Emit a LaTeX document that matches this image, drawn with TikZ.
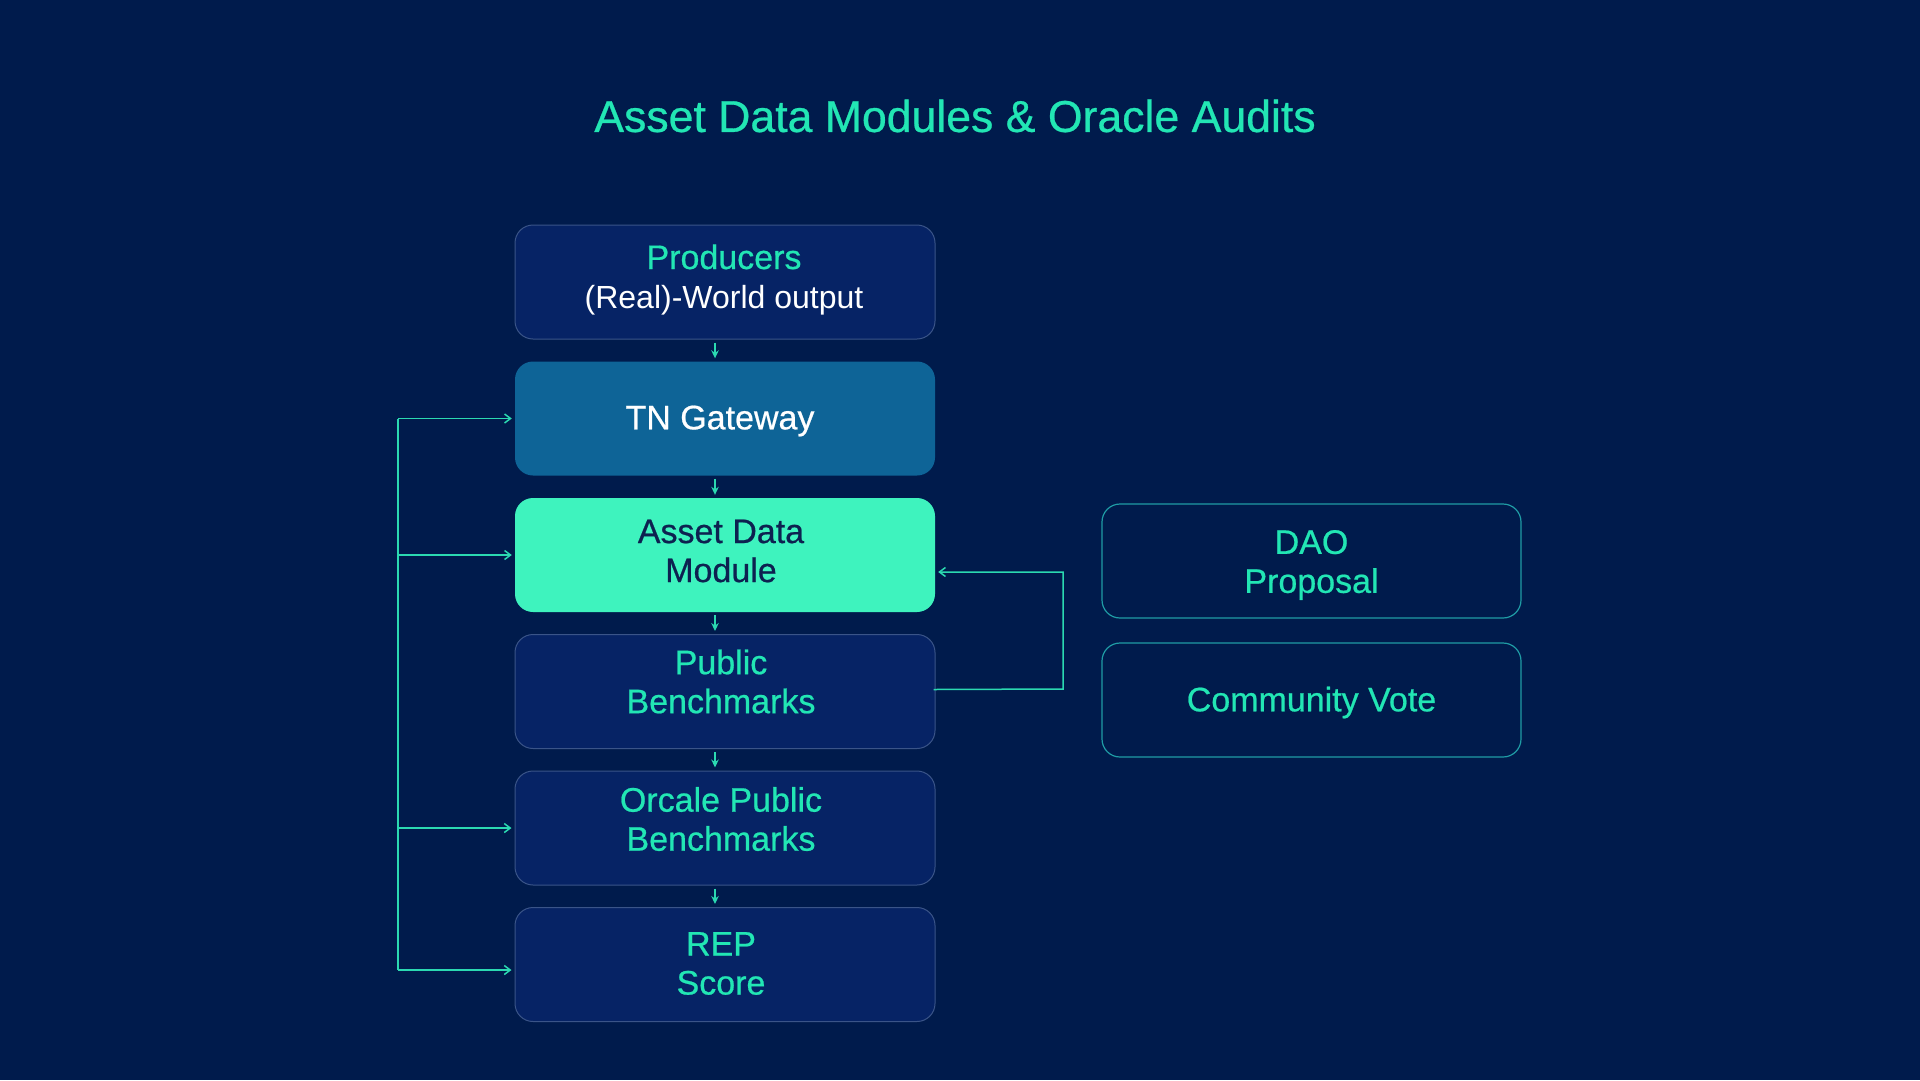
\documentclass[tikz,border=0pt]{standalone}
\usepackage{fontspec}
\setmainfont{Liberation Sans}
\newfontfamily\medfont[FakeBold=0.6]{Liberation Sans}
\usetikzlibrary{arrows.meta}
\definecolor{bg}{HTML}{001B4C}
\definecolor{dbox}{HTML}{062365}
\definecolor{dborder}{HTML}{3A5488}
\definecolor{gwfill}{HTML}{0E6497}
\definecolor{mint}{HTML}{3EF3BE}
\definecolor{navytext}{HTML}{0D2150}
\definecolor{teal}{HTML}{22E6B4}
\definecolor{rborder}{HTML}{1F9CA5}
\definecolor{conn}{HTML}{2BD9B1}
\tikzset{
  box/.style={rectangle, rounded corners=18pt, minimum width=420pt, minimum height=114pt, inner sep=0pt},
  darkbox/.style={box, fill=dbox, draw=dborder, line width=1pt},
  rbox/.style={box, minimum width=419pt, fill=bg, draw=rborder, line width=1.2pt},
  btxt/.style={align=center, font=\medfont\fontsize{34}{39}\selectfont, text=teal, inner sep=0pt},
  flow/.style={draw=conn, line width=2.2pt, -{Stealth[length=8pt,width=7.5pt]}, shorten <=3pt, shorten >=3pt},
  feed/.style={draw=conn, line width=1.5pt, -{Straight Barb[length=6pt,width=9pt]}, shorten >=3pt},
  busline/.style={draw=conn, line width=1.5pt}
}
\begin{document}
\begin{tikzpicture}[x=1pt,y=-1pt]
\fill[bg] (0,0) rectangle (1920,1080);
\useasboundingbox (0,0) rectangle (1920,1080);

\node[text=teal, font=\medfont\fontsize{44.6}{50}\selectfont] (title) at (955,116) {Asset Data Modules \& Oracle Audits};

\node[darkbox, label={[btxt, xshift=-1pt, yshift=2.5pt]center:Producers\\\textcolor{white}{\normalfont\fontsize{32}{39}\selectfont (Real)-World output}}] (prod) at (725,282) {};
\node[box, fill=gwfill, label={[btxt, text=white, xshift=-5pt, yshift=-2.5pt]center:TN Gateway}] (gw) at (725,418.5) {};
\node[box, fill=mint, label={[btxt, text=navytext, xshift=-4pt, yshift=4pt]center:Asset Data\\Module}] (adm) at (725,555) {};
\node[darkbox, label={[btxt, xshift=-4pt, yshift=10pt]center:Public\\Benchmarks}] (pub) at (725,691.5) {};
\node[darkbox, label={[btxt, xshift=-4pt, yshift=9pt]center:Orcale Public\\Benchmarks}] (orc) at (725,828) {};
\node[darkbox, label={[btxt, xshift=-4pt, yshift=1pt]center:REP\\Score}] (rep) at (725,964.5) {};

\node[rbox, label={[btxt, yshift=-4pt]center:DAO\\Proposal}] (dao) at (1311.5,561) {};
\node[rbox, label={[btxt, yshift=-2.5pt]center:Community Vote}] (vote) at (1311.5,700) {};

% vertical flow arrows
\draw[flow] ([xshift=-10pt]prod.south) -- ([xshift=-10pt]gw.north);
\draw[flow] ([xshift=-10pt]gw.south) -- ([xshift=-10pt]adm.north);
\draw[flow] ([xshift=-10pt]adm.south) -- ([xshift=-10pt]pub.north);
\draw[flow] ([xshift=-10pt]pub.south) -- ([xshift=-10pt]orc.north);
\draw[flow] ([xshift=-10pt]orc.south) -- ([xshift=-10pt]rep.north);

% left bus
\coordinate (bt) at (398,418.5);
\coordinate (bb) at (398,970);
\draw[busline] (bt) -- (bb);
\draw[feed] (bt) -- (gw.west);
\draw[feed] (bt |- adm.west) -- (adm.west);
\draw[feed] (bt |- orc.west) -- (orc.west);
\draw[feed] (bb) -- ([yshift=-5.5pt]rep.west);

% right feedback loop
\coordinate (fr) at (1063,689);
\draw[feed] ([xshift=-2pt,yshift=2pt]pub.east) -- (fr) -- (fr |- 0,572) -- ([yshift=-17pt]adm.east);
\end{tikzpicture}
\end{document}
